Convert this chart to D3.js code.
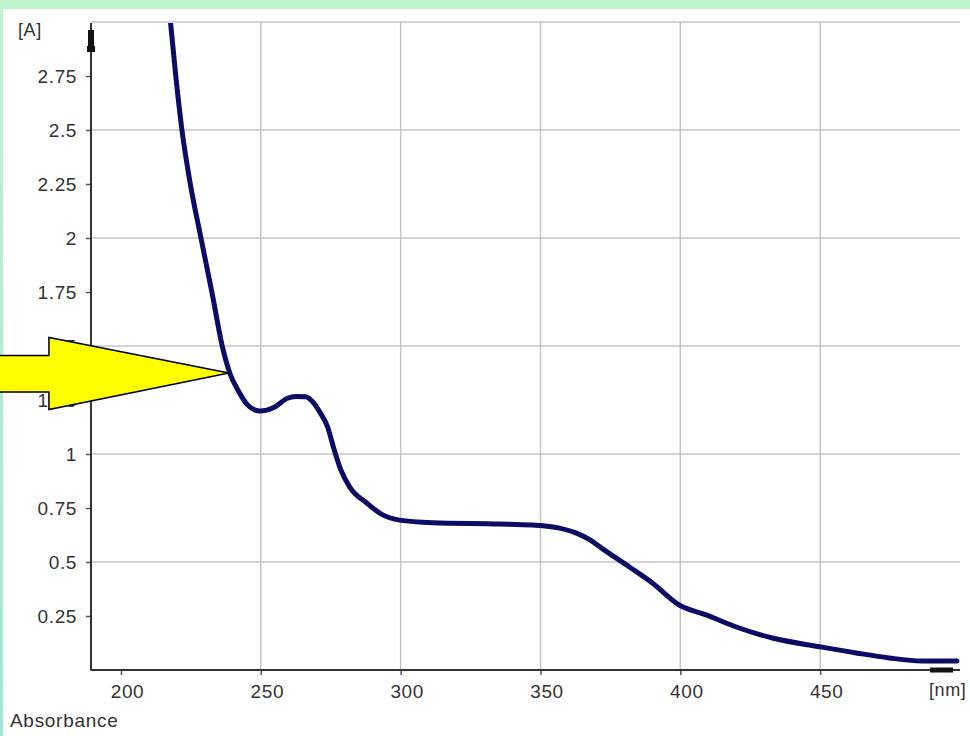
<!DOCTYPE html>
<html>
<head>
<meta charset="utf-8">
<script src="https://cdn.jsdelivr.net/npm/d3@7"></script>
<style>
  html, body { margin: 0; padding: 0; background: #ffffff; }
  svg { display: block; }
  text { font-family: "Liberation Sans", Arial, sans-serif; fill: #333333; }
</style>
</head>
<body>
<svg id="chart" width="970" height="736"></svg>
<script>
// ---- data ----
const wavelength = [217.7, 219.6, 221.8, 224.8, 228.6, 232.5, 236.3, 238.9, 241.8, 245.0,
  249.6, 255.0, 259.5, 262.5, 266.0, 268.6, 271.1, 273.9, 276.0, 278.5, 281.8, 287.9, 293.6,
  299.6, 311.4, 335.4, 347.1, 356.8, 363.9, 368.0, 372.1, 381.8, 390.0, 399.6, 409.3, 420.0,
  432.9, 450.7, 462.9, 474.6, 486.4, 498.9];
const absorbance = [3.00, 2.75, 2.50, 2.25, 2.00, 1.75, 1.495, 1.375, 1.296, 1.231,
  1.199, 1.218, 1.258, 1.266, 1.265, 1.241, 1.194, 1.125, 1.030, 0.930, 0.847, 0.773, 0.718,
  0.694, 0.682, 0.676, 0.671, 0.657, 0.628, 0.600, 0.562, 0.477, 0.403, 0.301, 0.255, 0.199,
  0.148, 0.106, 0.079, 0.056, 0.042, 0.042];
const xTickValues = [200, 250, 300, 350, 400, 450];
const xGridValues = [250, 300, 350, 400, 450];
const yTickValues = [0.25, 0.5, 0.75, 1, 1.25, 1.5, 1.75, 2, 2.25, 2.5, 2.75];
const yGridValues = [0.5, 1, 1.5, 2, 2.5, 3];
const xUnitLabel = "[nm]";
const yUnitLabel = "[A]";
const footerLabel = "Absorbance";
const arrowTarget = [238.6, 1.375];

// ---- layout ----
const svg = d3.select("#chart");
const W = 970, H = 736;
const mLeft = 91, mRight = 960, mTop = 22, mBottom = 670;
const fontCss = "'Liberation Sans', Arial, sans-serif";

const x = d3.scaleLinear().domain([200 - 30 / 2.8, 500]).range([mLeft, mRight]);
const y = d3.scaleLinear().domain([0, 3]).range([mBottom, mTop]);

// background frame (green band)
const defs = svg.append("defs");
const grad = defs.append("linearGradient").attr("id", "sideGrad")
  .attr("x1", 0).attr("y1", 0).attr("x2", 0).attr("y2", 1);
grad.append("stop").attr("offset", "0%").attr("stop-color", "#bef5cc");
grad.append("stop").attr("offset", "100%").attr("stop-color", "#a2e6d8");
defs.append("clipPath").attr("id", "plotClip")
  .append("rect").attr("x", mLeft).attr("y", mTop + 1).attr("width", mRight - mLeft).attr("height", mBottom - mTop);

svg.append("rect").attr("x", 0).attr("y", 0).attr("width", W).attr("height", H).attr("fill", "#ffffff");
svg.append("rect").attr("x", 0).attr("y", 0).attr("width", W).attr("height", 9).attr("fill", "#bef5cc");
svg.append("rect").attr("x", 0).attr("y", 0).attr("width", 3).attr("height", H).attr("fill", "url(#sideGrad)");

// grid
const grid = svg.append("g");
grid.selectAll("line.v").data(xGridValues).join("line").attr("class", "v")
  .attr("x1", d => x(d)).attr("x2", d => x(d))
  .attr("y1", y(3)).attr("y2", mBottom)
  .attr("stroke", "#c4c4c4").attr("stroke-width", 1.5);
grid.selectAll("line.h").data(yGridValues).join("line").attr("class", "h")
  .attr("x1", mLeft).attr("x2", mRight)
  .attr("y1", d => y(d)).attr("y2", d => y(d))
  .attr("stroke", "#c4c4c4").attr("stroke-width", 1.5);

// axes
const yAxis = d3.axisLeft(y).tickValues(yTickValues).tickSize(5).tickPadding(9)
  .tickFormat(d => String(d));
const gy = svg.append("g").attr("transform", `translate(${mLeft},0)`).call(yAxis);
gy.select(".domain").remove();
gy.selectAll(".tick line").attr("stroke", "#555").attr("stroke-width", 1.5);
gy.selectAll(".tick text").attr("font-size", 19).attr("fill", "#333")
  .attr("letter-spacing", 0.6).style("font-family", fontCss);

const xAxis = d3.axisBottom(x).tickValues(xTickValues).tickSize(5).tickPadding(10)
  .tickFormat(d => String(d));
const gx = svg.append("g").attr("transform", `translate(0,${mBottom})`).call(xAxis);
gx.select(".domain").remove();
gx.selectAll(".tick line").attr("stroke", "#555").attr("stroke-width", 1.5);
gx.selectAll(".tick text").attr("font-size", 19).attr("fill", "#333").attr("dx", 6)
  .attr("letter-spacing", 0.6).style("font-family", fontCss);

// axis lines
svg.append("line").attr("x1", mLeft).attr("x2", mLeft).attr("y1", mTop + 1).attr("y2", mBottom + 0.5)
  .attr("stroke", "#333").attr("stroke-width", 2);
svg.append("line").attr("x1", mLeft).attr("x2", mRight).attr("y1", mBottom).attr("y2", mBottom)
  .attr("stroke", "#333").attr("stroke-width", 2);
// axis end markers
svg.append("rect").attr("x", mLeft - 3).attr("y", 30).attr("width", 6).attr("height", 17).attr("fill", "#111");
svg.append("rect").attr("x", mLeft - 4).attr("y", 46).attr("width", 8).attr("height", 6).attr("fill", "#111");
svg.append("rect").attr("x", 930).attr("y", mBottom - 2.5).attr("width", 23).attr("height", 5).attr("fill", "#111");

// curve
const pts = wavelength.map((w, i) => [w, absorbance[i]]);
const line = d3.line().x(d => x(d[0])).y(d => y(d[1])).curve(d3.curveMonotoneX);
svg.append("path").datum(pts)
  .attr("clip-path", "url(#plotClip)")
  .attr("d", line)
  .attr("fill", "none").attr("stroke", "#0c0c66").attr("stroke-width", 5)
  .attr("stroke-linejoin", "round").attr("stroke-linecap", "round");

// labels
svg.append("text").attr("x", 18).attr("y", 36).attr("font-size", 18).attr("letter-spacing", 0.6).text(yUnitLabel);
svg.append("text").attr("x", 929).attr("y", 696).attr("font-size", 18).attr("letter-spacing", 0.6).text(xUnitLabel);
svg.append("text").attr("x", 10).attr("y", 727).attr("font-size", 19).attr("letter-spacing", 0.7).text(footerLabel);

// yellow annotation arrow pointing at the curve
const tx = x(arrowTarget[0]), ty = y(arrowTarget[1]);
const arrowPath = d3.path();
arrowPath.moveTo(tx, ty);
arrowPath.lineTo(tx - 180, ty - 35.5);
arrowPath.lineTo(tx - 180, ty - 17.5);
arrowPath.lineTo(-2, ty - 17.5);
arrowPath.lineTo(-2, ty + 19);
arrowPath.lineTo(tx - 180, ty + 19);
arrowPath.lineTo(tx - 180, ty + 36.5);
arrowPath.closePath();
svg.append("path").attr("d", arrowPath.toString())
  .attr("fill", "#ffff00").attr("stroke", "#000").attr("stroke-width", 1.5)
  .attr("stroke-linejoin", "miter");
</script>
</body>
</html>
